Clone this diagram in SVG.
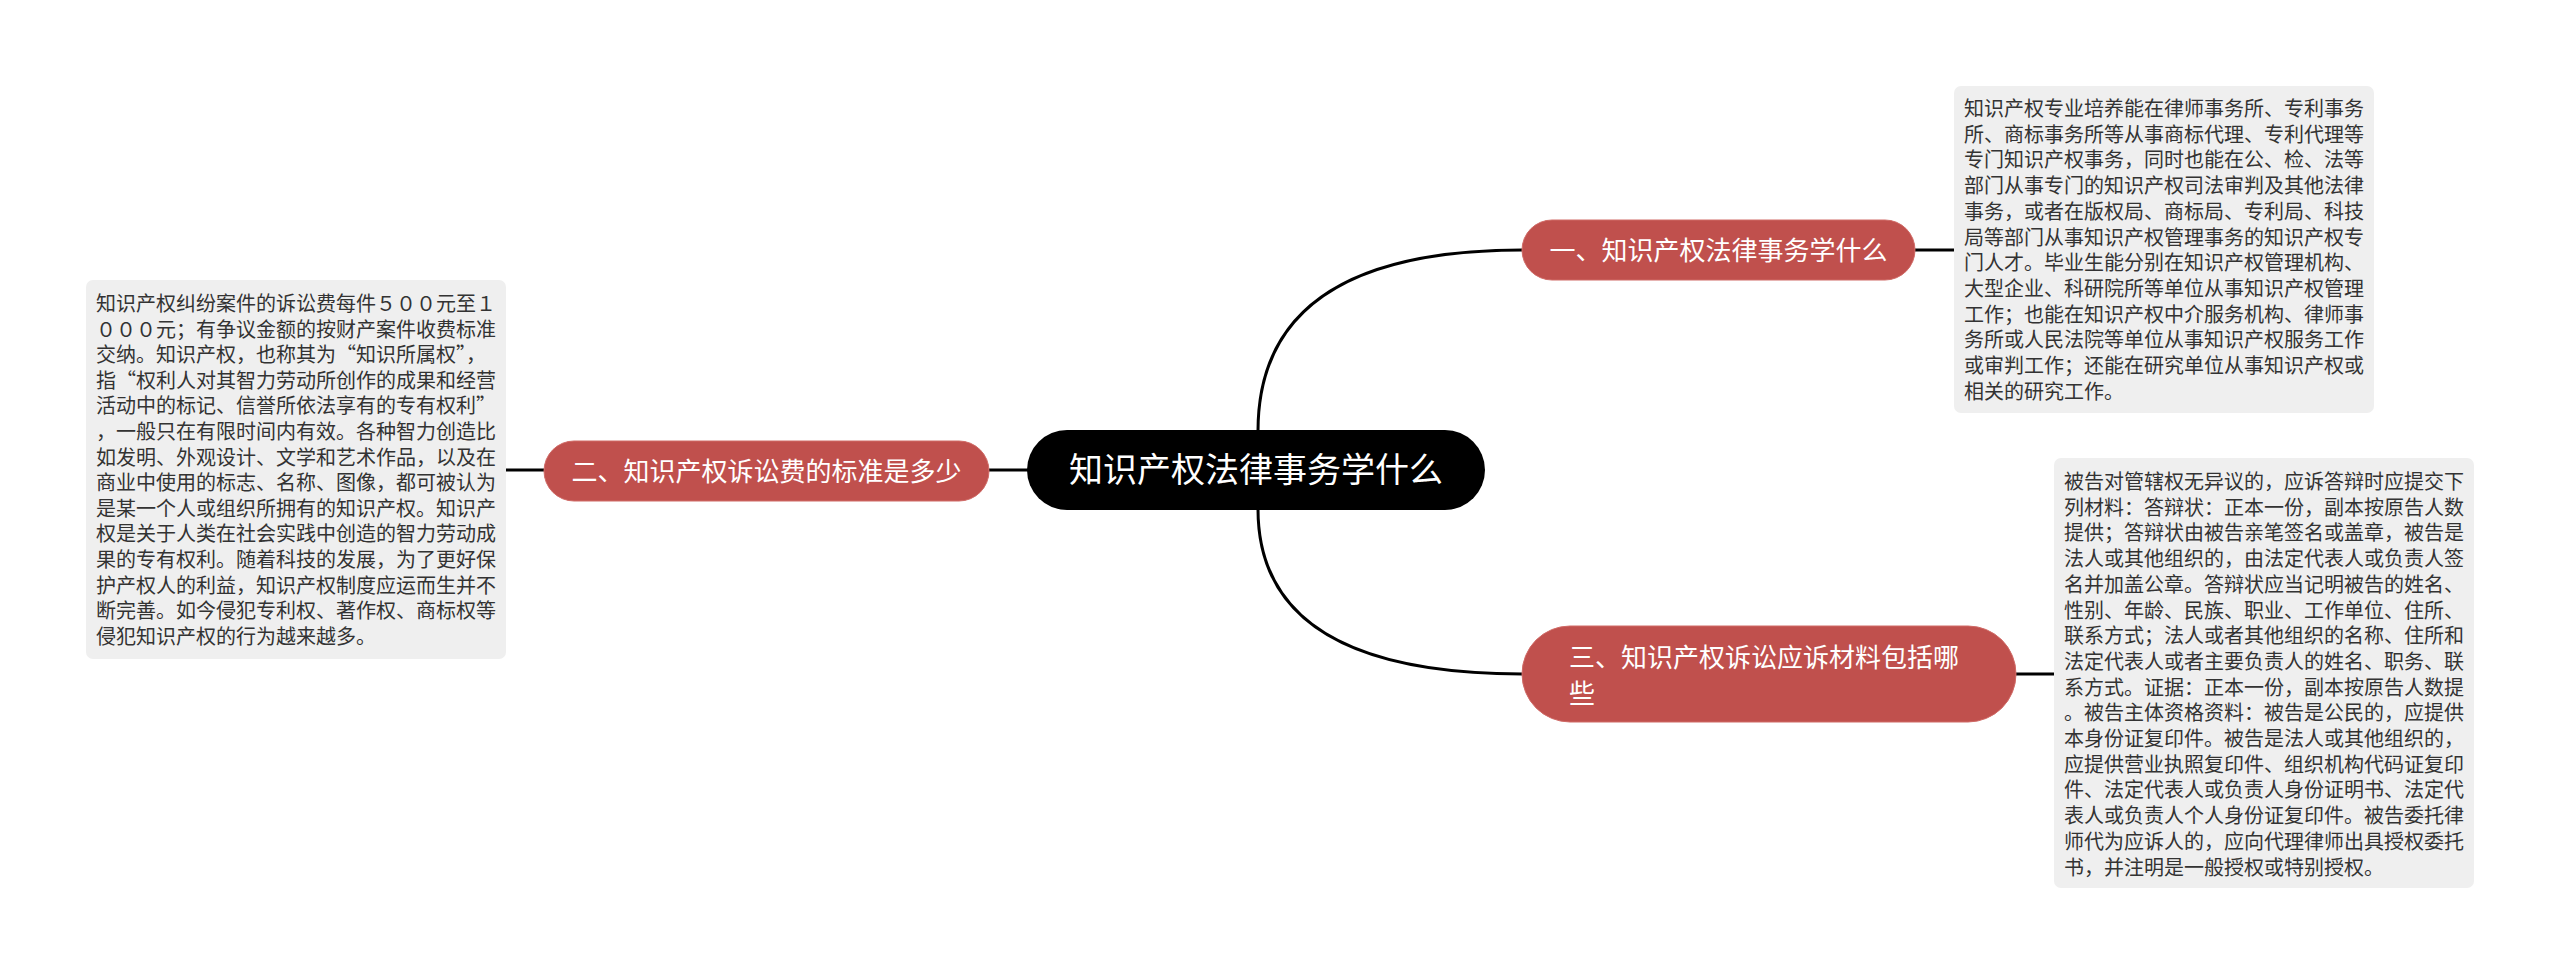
<svg xmlns="http://www.w3.org/2000/svg" width="2560" height="975" viewBox="0 0 2560 975">
<style>
.t{font-family:"Noto Sans CJK SC","Noto Sans",sans-serif;}
.box{fill:#EFEFEF;}
.bt{font-size:20px;fill:#333333;}
.sub{fill:#C0504D;stroke:#D06a66;stroke-width:1;}
.st{font-size:26px;fill:#FFFFFF;}
.conn{fill:none;stroke:#000000;stroke-width:3;}
</style>
<rect width="2560" height="975" fill="#FFFFFF"/>
<g id="connectors">
<path class="conn" d="M1258,431 Q1258,250 1522,250"/>
<path class="conn" d="M1258,509 Q1258,674 1522,674"/>
<path class="conn" d="M1028,470 L989,470"/>
<path class="conn" d="M1915,250 L1954,250"/>
<path class="conn" d="M2016,674 L2054,674"/>
<path class="conn" d="M544,470 L506,470"/>
</g>
<g id="root">
<rect x="1027" y="430" width="458" height="80" rx="40" fill="#000000"/>
<text class="t" x="1256" y="482" font-size="34" fill="#FFFFFF" text-anchor="middle">知识产权法律事务学什么</text>
</g>
<g id="node1">
<rect class="sub" x="1522" y="220" width="393" height="60" rx="30"/>
<text class="t st" x="1718.5" y="260" text-anchor="middle">一、知识产权法律事务学什么</text>
</g>
<g id="node2">
<rect class="sub" x="544" y="441" width="445" height="60" rx="30"/>
<text class="t st" x="766.5" y="481" text-anchor="middle">二、知识产权诉讼费的标准是多少</text>
</g>
<g id="node3">
<rect class="sub" x="1522" y="626" width="494" height="96" rx="48"/>
<text class="t st" x="1569" y="667">三、知识产权诉讼应诉材料包括哪</text>
<text class="t st" x="1569" y="703">些</text>
</g>
<g id="detail1">
<rect class="box" x="1954" y="86" width="420" height="327" rx="7"/>
<text class="t bt" x="1964" y="116">知识产权专业培养能在律师事务所、专利事务</text>
<text class="t bt" x="1964" y="141.7">所、商标事务所等从事商标代理、专利代理等</text>
<text class="t bt" x="1964" y="167.4">专门知识产权事务，同时也能在公、检、法等</text>
<text class="t bt" x="1964" y="193.1">部门从事专门的知识产权司法审判及其他法律</text>
<text class="t bt" x="1964" y="218.8">事务，或者在版权局、商标局、专利局、科技</text>
<text class="t bt" x="1964" y="244.5">局等部门从事知识产权管理事务的知识产权专</text>
<text class="t bt" x="1964" y="270.2">门人才。毕业生能分别在知识产权管理机构、</text>
<text class="t bt" x="1964" y="295.9">大型企业、科研院所等单位从事知识产权管理</text>
<text class="t bt" x="1964" y="321.6">工作；也能在知识产权中介服务机构、律师事</text>
<text class="t bt" x="1964" y="347.3">务所或人民法院等单位从事知识产权服务工作</text>
<text class="t bt" x="1964" y="373">或审判工作；还能在研究单位从事知识产权或</text>
<text class="t bt" x="1964" y="398.7">相关的研究工作。</text>
</g>
<g id="detail2">
<rect class="box" x="86" y="280" width="420" height="379" rx="7"/>
<text class="t bt" x="96" y="311">知识产权纠纷案件的诉讼费每件５００元至１</text>
<text class="t bt" x="96" y="336.6">０００元；有争议金额的按财产案件收费标准</text>
<text class="t bt" x="96" y="362.2">交纳。知识产权，也称其为“知识所属权”，</text>
<text class="t bt" x="96" y="387.8">指“权利人对其智力劳动所创作的成果和经营</text>
<text class="t bt" x="96" y="413.4">活动中的标记、信誉所依法享有的专有权利”</text>
<text class="t bt" x="96" y="439">，一般只在有限时间内有效。各种智力创造比</text>
<text class="t bt" x="96" y="464.6">如发明、外观设计、文学和艺术作品，以及在</text>
<text class="t bt" x="96" y="490.2">商业中使用的标志、名称、图像，都可被认为</text>
<text class="t bt" x="96" y="515.8">是某一个人或组织所拥有的知识产权。知识产</text>
<text class="t bt" x="96" y="541.4">权是关于人类在社会实践中创造的智力劳动成</text>
<text class="t bt" x="96" y="567">果的专有权利。随着科技的发展，为了更好保</text>
<text class="t bt" x="96" y="592.6">护产权人的利益，知识产权制度应运而生并不</text>
<text class="t bt" x="96" y="618.2">断完善。如今侵犯专利权、著作权、商标权等</text>
<text class="t bt" x="96" y="643.8">侵犯知识产权的行为越来越多。</text>
</g>
<g id="detail3">
<rect class="box" x="2054" y="458" width="420" height="430" rx="7"/>
<text class="t bt" x="2064" y="489">被告对管辖权无异议的，应诉答辩时应提交下</text>
<text class="t bt" x="2064" y="514.7">列材料：答辩状：正本一份，副本按原告人数</text>
<text class="t bt" x="2064" y="540.4">提供；答辩状由被告亲笔签名或盖章，被告是</text>
<text class="t bt" x="2064" y="566.1">法人或其他组织的，由法定代表人或负责人签</text>
<text class="t bt" x="2064" y="591.8">名并加盖公章。答辩状应当记明被告的姓名、</text>
<text class="t bt" x="2064" y="617.5">性别、年龄、民族、职业、工作单位、住所、</text>
<text class="t bt" x="2064" y="643.2">联系方式；法人或者其他组织的名称、住所和</text>
<text class="t bt" x="2064" y="668.9">法定代表人或者主要负责人的姓名、职务、联</text>
<text class="t bt" x="2064" y="694.6">系方式。证据：正本一份，副本按原告人数提</text>
<text class="t bt" x="2064" y="720.3">。被告主体资格资料：被告是公民的，应提供</text>
<text class="t bt" x="2064" y="746">本身份证复印件。被告是法人或其他组织的，</text>
<text class="t bt" x="2064" y="771.7">应提供营业执照复印件、组织机构代码证复印</text>
<text class="t bt" x="2064" y="797.4">件、法定代表人或负责人身份证明书、法定代</text>
<text class="t bt" x="2064" y="823.1">表人或负责人个人身份证复印件。被告委托律</text>
<text class="t bt" x="2064" y="848.8">师代为应诉人的，应向代理律师出具授权委托</text>
<text class="t bt" x="2064" y="874.5">书，并注明是一般授权或特别授权。</text>
</g>
</svg>
